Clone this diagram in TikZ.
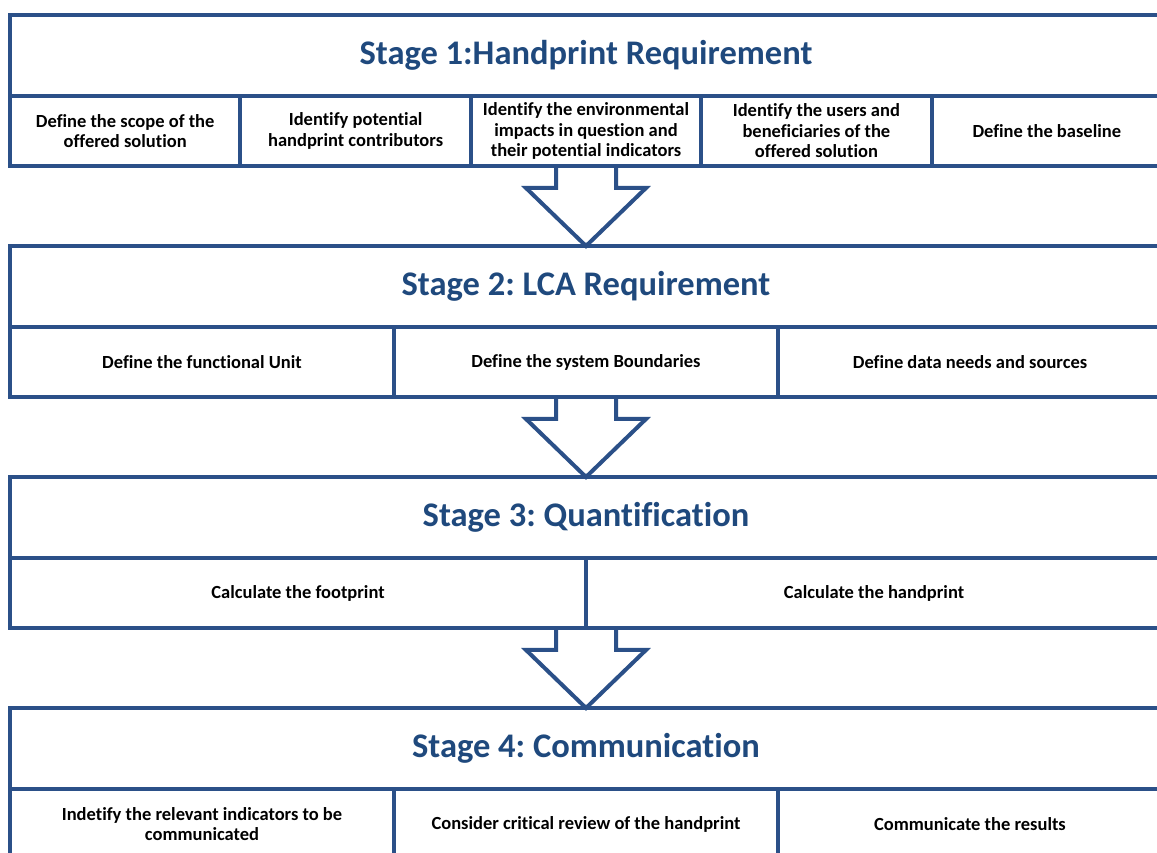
\documentclass[tikz,border=0pt]{standalone}
\usepackage{fontspec}
\setmainfont{Carlito}[Ligatures=NoCommon]
\usetikzlibrary{positioning,calc}
\definecolor{stageline}{HTML}{2B5088}
\definecolor{stagetext}{HTML}{1F497D}
\frenchspacing

\begin{document}
\begin{tikzpicture}[x=1pt, y=1pt,
					stagebox/.style={rectangle, draw=stageline, line width=4pt, outer sep=0pt, minimum width=1152pt, minimum height=81pt, inner sep=0pt, font=\fontsize{34.5}{40}\selectfont\bfseries, text=stagetext},
					sub/.style={rectangle, draw=stageline, line width=4pt, outer sep=0pt, minimum height=70pt, inner sep=0pt, align=center, font=\fontsize{18.5}{20.5}\selectfont\bfseries},
					subfive/.style={sub, minimum width=230.4pt},
					subthree/.style={sub, minimum width=384pt},
					subtwo/.style={sub, minimum width=576pt},
					bigarrow/.style={draw=stageline, line width=4pt, line join=miter}
				]
				\useasboundingbox (0,0) rectangle (1157,853);
				% stage 1
				\node[stagebox, anchor=north west] (stageone) at (10,838) {Stage 1:Handprint Requirement};
				\node[subfive] (scope) [below right=0pt of stageone.south west] {Define the scope of the\\offered solution};
				\node[subfive] (contrib) [right=0pt of scope] {Identify potential\\handprint contributors};
				\node[subfive] (impacts) [right=0pt of contrib] {Identify the environmental\\impacts in question and\\their potential indicators};
				\node[subfive] (users) [right=0pt of impacts] {Identify the users and\\beneficiaries of the\\offered solution};
				\node[subfive] (baseline) [right=0pt of users] {Define the baseline};
				% stage 2
				\node[stagebox, anchor=north west] (stagetwo) at (10,607) {Stage 2: LCA Requirement};
				\node[subthree] (funit) [below right=0pt of stagetwo.south west] {Define the functional Unit};
				\node[subthree] (bounds) [right=0pt of funit] {Define the system Boundaries};
				\node[subthree] (datas) [right=0pt of bounds] {Define data needs and sources};
				% stage 3
				\node[stagebox, anchor=north west] (stagethree) at (10,376) {Stage 3: Quantification};
				\node[subtwo] (foot) [below right=0pt of stagethree.south west] {Calculate the footprint};
				\node[subtwo] (hand) [right=0pt of foot] {Calculate the handprint};
				% stage 4
				\node[stagebox, anchor=north west] (stagefour) at (10,145) {Stage 4: Communication};
				\node[subthree] (indic) [below right=0pt of stagefour.south west] {Indetify the relevant indicators to be\\communicated};
				\node[subthree] (review) [right=0pt of indic] {Consider critical review of the handprint};
				\node[subthree] (results) [right=0pt of review] {Communicate the results};
				% arrows between stages
				\foreach \top/\row/\next in {stageone/scope/stagetwo, stagetwo/funit/stagethree, stagethree/foot/stagefour}{
					\coordinate (start) at (\top.south |- \row.south);
					\draw[bigarrow] ($(start)+(-30,0)$) -- ($(start)+(-30,-22)$) -- ($(start)+(-60,-22)$) -- (\next.north) -- ($(start)+(60,-22)$) -- ($(start)+(30,-22)$) -- ($(start)+(30,0)$);
				}
				\end{tikzpicture}
\end{document}
